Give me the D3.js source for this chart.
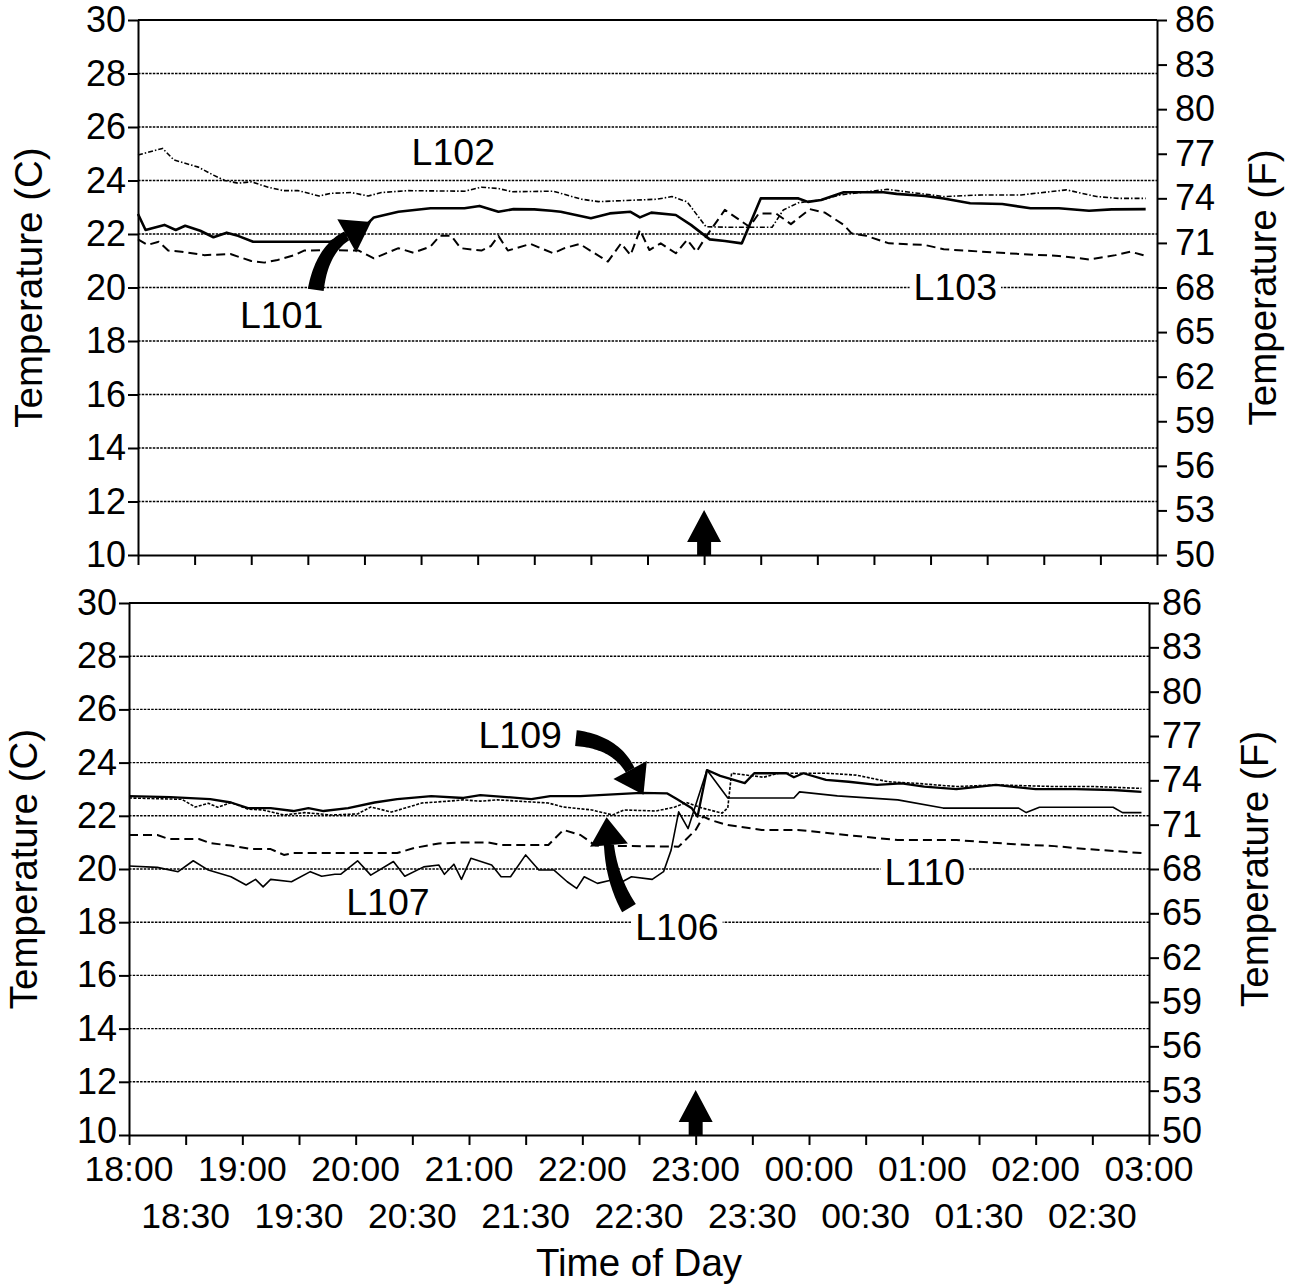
<!DOCTYPE html>
<html>
<head>
<meta charset="utf-8">
<script src="https://cdn.jsdelivr.net/npm/d3@7"></script>
<style>
  body { margin: 0; background: #fff; }
  svg { display: block; }
</style>
</head>
<body>
<svg id="chart" width="1300" height="1287"></svg>
<script>
// Readings: [minutes after 18:00, temperature in °C]
const L101 = [[0,22.75],[4,22.15],[14,22.34],[20,22.15],[25,22.31],[33,22.12],[40,21.88],[47,22.05],[53,21.93],[61,21.71],[102,21.71],[120,22.27],[125,22.62],[138,22.83],[155,22.96],[173,22.96],[181,23.05],[191,22.83],[199,22.93],[210,22.92],[219,22.87],[224,22.83],[240,22.59],[250,22.77],[261,22.83],[266,22.62],[272,22.8],[285,22.71],[293,22.34],[303,21.8],[311,21.74],[320,21.65],[330,23.33],[350,23.33],[355,23.2],[362,23.27],[374,23.56],[395,23.56],[402,23.5],[417,23.42],[427,23.33],[441,23.15],[458,23.12],[473,22.96],[488,22.96],[504,22.87],[516,22.92],[534,22.93]];
const L102 = [[0,24.95],[13,25.2],[19,24.77],[32,24.5],[40,24.2],[46,24.0],[53,23.9],[60,23.95],[69,23.75],[77,23.62],[85,23.62],[96,23.42],[102,23.52],[113,23.55],[122,23.42],[129,23.55],[143,23.62],[173,23.6],[182,23.75],[191,23.7],[198,23.58],[220,23.6],[235,23.3],[244,23.21],[275,23.3],[283,23.4],[291,23.2],[301,22.27],[315,22.25],[336,22.25],[342,22.9],[350,23.17],[362,23.27],[372,23.46],[397,23.67],[407,23.58],[427,23.4],[447,23.46],[468,23.46],[492,23.65],[508,23.4],[520,23.33],[534,23.33]];
const L103 = [[0,21.8],[5,21.59],[11,21.71],[16,21.38],[23,21.34],[35,21.21],[49,21.25],[60,20.99],[67,20.93],[74,21.03],[83,21.21],[88,21.38],[102,21.4],[117,21.38],[125,21.09],[138,21.47],[146,21.3],[155,21.53],[160,21.93],[166,21.93],[171,21.47],[182,21.38],[187,21.55],[191,21.93],[196,21.38],[208,21.63],[220,21.28],[226,21.47],[234,21.63],[249,20.97],[256,21.65],[261,21.21],[266,22.15],[271,21.4],[277,21.65],[285,21.28],[291,21.78],[296,21.34],[301,21.9],[311,22.9],[324,22.27],[329,22.77],[338,22.77],[346,22.37],[356,22.93],[364,22.8],[374,22.34],[378,22.03],[386,21.93],[398,21.65],[417,21.59],[427,21.43],[447,21.34],[468,21.25],[488,21.18],[504,21.05],[518,21.21],[526,21.34],[534,21.18]];

const L106 = [[0,22.67],[28,22.62],[35,22.33],[42,22.47],[47,22.32],[54,22.5],[63,22.25],[71,22.22],[82,22.03],[93,22.12],[107,22.03],[121,22.07],[128,22.33],[139,22.14],[148,22.33],[155,22.48],[169,22.55],[177,22.6],[186,22.55],[195,22.6],[222,22.48],[230,22.33],[245,22.22],[256,22.03],[262,22.22],[279,22.18],[289,22.33],[295,22.5],[303,22.3],[314,22.1],[317,22.3],[319,23.6],[336,23.45],[344,23.6],[369,23.6],[385,23.53],[402,23.28],[417,23.22],[438,23.1],[459,23.16],[490,23.1],[511,23.1],[536,23.03]];
const L107 = [[0,20.11],[15,20.06],[26,19.9],[34,20.31],[42,19.96],[54,19.71],[62,19.4],[67,19.61],[71,19.33],[75,19.61],[86,19.52],[96,19.9],[102,19.73],[109,19.8],[112,19.8],[121,20.31],[128,19.77],[140,20.28],[146,19.73],[156,20.08],[164,20.15],[167,19.8],[172,20.18],[176,19.61],[181,20.4],[192,20.15],[197,19.71],[202,19.71],[210,20.53],[217,19.96],[225,19.96],[232,19.52],[237,19.27],[241,19.71],[248,19.46],[255,19.58],[258,19.4],[266,19.71],[277,19.61],[283,19.9],[287,20.71],[291,22.15],[296,21.52],[306,23.72],[317,22.67],[352,22.67],[355,22.9],[375,22.75],[407,22.6],[431,22.29],[471,22.29],[475,22.12],[482,22.32],[521,22.32],[526,22.12],[536,22.12]];
const L109 = [[0,22.74],[22,22.7],[43,22.63],[54,22.5],[63,22.29],[75,22.29],[87,22.18],[95,22.29],[103,22.18],[116,22.29],[130,22.5],[142,22.63],[160,22.74],[177,22.67],[186,22.78],[213,22.63],[223,22.74],[239,22.74],[271,22.86],[285,22.84],[290,22.63],[298,22.28],[301,21.97],[306,23.72],[313,23.5],[326,23.23],[331,23.6],[348,23.6],[352,23.45],[357,23.6],[369,23.35],[381,23.28],[396,23.16],[409,23.22],[421,23.1],[438,23.0],[459,23.16],[480,23.0],[501,23.0],[521,22.97],[536,22.9]];
const L110 = [[0,21.28],[15,21.28],[21,21.13],[37,21.13],[43,20.97],[54,20.88],[65,20.75],[75,20.75],[82,20.53],[87,20.6],[142,20.6],[151,20.79],[164,20.96],[177,21.0],[190,21.0],[197,20.9],[222,20.9],[230,21.47],[239,21.28],[247,20.88],[291,20.84],[300,21.47],[304,21.97],[308,21.84],[317,21.65],[335,21.47],[354,21.47],[385,21.24],[407,21.09],[438,21.09],[469,20.93],[490,20.86],[507,20.75],[536,20.6]];

// Axis ticks and labels
const celsiusTicks = [10, 12, 14, 16, 18, 20, 22, 24, 26, 28, 30];
const fahrenheitTicks = [50, 53, 56, 59, 62, 65, 68, 71, 74, 77, 80, 83, 86];
const hourLabels = ["18:00","19:00","20:00","21:00","22:00","23:00","00:00","01:00","02:00","03:00"];
const halfHourLabels = ["18:30","19:30","20:30","21:30","22:30","23:30","00:30","01:30","02:30"];
const spanMinutes = 540;   // 18:00 .. 03:00
const markerMinute = 300;  // 23:00 event marker

// Callouts: text anchored at [minute, °C] (left/baseline)
const topCallouts = [["L102", 145, 24.58], ["L101", 54, 18.49], ["L103", 411, 19.53]];
const bottomCallouts = [["L109", 185, 24.55], ["L107", 115, 18.27], ["L106", 268, 17.33], ["L110", 400, 19.4]];
// Curved pointers: tail, bend, head base as [minute, °C]
const topPointers = [[[94.2, 19.91], [97.4, 21.40], [110.6, 21.93]]];
const bottomPointers = [
  [[236.6, 24.92], [257.3, 24.77], [265.3, 23.72]],
  [[264.7, 18.53], [255.7, 19.59], [254.1, 20.90]]
];

const FONT = "'Liberation Sans', Arial, Helvetica, sans-serif";
const svg = d3.select("#chart");

function drawPanel(box, series, callouts, pointers, withLabels) {
  const x = d3.scaleLinear().domain([0, spanMinutes]).range([box.left, box.right]);
  const yC = d3.scaleLinear().domain([10, 30]).range([box.bottom, box.top]);
  const yF = d3.scaleLinear().domain([50, 86]).range([box.bottom, box.top]);
  const g = svg.append("g");

  // dotted grid at every °C tick inside the frame
  g.append("g").selectAll("line")
    .data(celsiusTicks.filter(d => d > 10 && d < 30))
    .join("line")
    .attr("x1", box.left).attr("x2", box.right)
    .attr("y1", d => yC(d)).attr("y2", d => yC(d))
    .attr("stroke", "#000").attr("stroke-width", 1.4)
    .attr("stroke-dasharray", "2.5,1.2");

  // top frame edge
  g.append("line")
    .attr("x1", box.left).attr("x2", box.right)
    .attr("y1", box.top).attr("y2", box.top)
    .attr("stroke", "#000").attr("stroke-width", 2);

  const styleAxis = (sel, size) => {
    sel.select(".domain").attr("stroke", "#000").attr("stroke-width", 2);
    sel.selectAll(".tick line").attr("stroke", "#000").attr("stroke-width", 2);
    sel.selectAll(".tick text").attr("font-family", FONT).attr("font-size", size).attr("fill", "#000");
  };

  const left = g.append("g").attr("transform", `translate(${box.left},0)`)
    .call(d3.axisLeft(yC).tickValues(celsiusTicks).tickSize(10).tickSizeOuter(0).tickPadding(2))
    .call(s => styleAxis(s, 36));
  const right = g.append("g").attr("transform", `translate(${box.right},0)`)
    .call(d3.axisRight(yF).tickValues(fahrenheitTicks).tickSize(10).tickSizeOuter(0).tickPadding(box.rightPad))
    .call(s => styleAxis(s, 36));
  g.append("g").attr("transform", `translate(0,${box.bottom})`)
    .call(d3.axisBottom(x).tickValues(d3.range(0, spanMinutes + 1, 30)).tickSize(10).tickSizeOuter(0).tickFormat(() => ""))
    .call(s => styleAxis(s, 36));

  if (withLabels) {
    // lift the lowest scale labels slightly clear of the time labels below
    left.selectAll(".tick text").filter(d => d === 10).attr("y", -4);
    right.selectAll(".tick text").filter(d => d === 50).attr("y", -4);
  }

  // axis titles
  g.append("text")
    .attr("transform", `translate(${box.left - box.titleOff},${(box.top + box.bottom) / 2}) rotate(-90)`)
    .attr("text-anchor", "middle").attr("font-family", FONT).attr("font-size", 38.5)
    .text("Temperature (C)");
  g.append("text")
    .attr("transform", `translate(${box.right + 119},${(box.top + box.bottom) / 2}) rotate(-90)`)
    .attr("text-anchor", "middle").attr("font-family", FONT).attr("font-size", 38.5)
    .text("Temperature (F)");

  // series
  const line = d3.line().x(d => x(d[0])).y(d => yC(d[1]));
  series.forEach(s => {
    g.append("path").datum(s.data)
      .attr("d", line).attr("fill", "none")
      .attr("stroke", "#000").attr("stroke-width", s.width)
      .attr("stroke-dasharray", s.dash || null)
      .attr("stroke-linejoin", "round");
  });

  // callout labels on white boxes
  callouts.forEach(([t, m, c]) => {
    const tx = g.append("text")
      .attr("x", x(m)).attr("y", yC(c))
      .attr("font-family", FONT).attr("font-size", 37.5).text(t);
    const bb = tx.node().getBBox();
    g.insert("rect", () => tx.node())
      .attr("x", bb.x - 4).attr("y", bb.y + 4).attr("width", bb.width + 8).attr("height", bb.height - 6)
      .attr("fill", "#fff");
  });

  // curved pointers: tapered band plus arrow head
  pointers.forEach(([a, b, c]) => {
    const p0 = [x(a[0]), yC(a[1])], p1 = [x(b[0]), yC(b[1])], p2 = [x(c[0]), yC(c[1])];
    const w0 = 16, w1 = 10, headLen = 28, headW = 38;
    const lside = [], rside = [];
    const N = 30;
    for (let i = 0; i <= N; i++) {
      const t = i / N;
      const px = (1 - t) * (1 - t) * p0[0] + 2 * (1 - t) * t * p1[0] + t * t * p2[0];
      const py = (1 - t) * (1 - t) * p0[1] + 2 * (1 - t) * t * p1[1] + t * t * p2[1];
      const dx = 2 * (1 - t) * (p1[0] - p0[0]) + 2 * t * (p2[0] - p1[0]);
      const dy = 2 * (1 - t) * (p1[1] - p0[1]) + 2 * t * (p2[1] - p1[1]);
      const len = Math.hypot(dx, dy);
      const nx = -dy / len, ny = dx / len;
      const w = (w0 + (w1 - w0) * t) / 2;
      lside.push([px + nx * w, py + ny * w]);
      rside.push([px - nx * w, py - ny * w]);
    }
    g.append("path")
      .attr("d", d3.line()(lside.concat(rside.reverse())) + "Z")
      .attr("fill", "#000");
    const ex = p2[0] - p1[0], ey = p2[1] - p1[1], el = Math.hypot(ex, ey);
    const ux = ex / el, uy = ey / el;
    const tip = [p2[0] + ux * headLen, p2[1] + uy * headLen];
    const hl = [p2[0] - uy * headW / 2, p2[1] + ux * headW / 2];
    const hr = [p2[0] + uy * headW / 2, p2[1] - ux * headW / 2];
    g.append("path").attr("d", d3.line()([hl, tip, hr]) + "Z").attr("fill", "#000");
  });

  // event marker: block arrow standing on the time axis
  const mx = x(markerMinute), base = box.bottom;
  g.append("path")
    .attr("d", d3.line()([[mx - 7, base], [mx - 7, base - 13], [mx - 17, base - 13], [mx, base - 45],
                          [mx + 17, base - 13], [mx + 7, base - 13], [mx + 7, base]]) + "Z")
    .attr("fill", "#000");

  if (withLabels) {
    g.append("g").selectAll("text").data(hourLabels).join("text")
      .attr("x", (d, i) => x(i * 60)).attr("y", box.bottom + 46)
      .attr("text-anchor", "middle").attr("font-family", FONT).attr("font-size", 35.5)
      .text(d => d);
    g.append("g").selectAll("text").data(halfHourLabels).join("text")
      .attr("x", (d, i) => x(i * 60 + 30)).attr("y", box.bottom + 93)
      .attr("text-anchor", "middle").attr("font-family", FONT).attr("font-size", 35.5)
      .text(d => d);
    g.append("text")
      .attr("x", (box.left + box.right) / 2).attr("y", box.bottom + 141)
      .attr("text-anchor", "middle").attr("font-family", FONT).attr("font-size", 38.5)
      .text("Time of Day");
  }
}

drawPanel({ left: 138, right: 1157, top: 20, bottom: 555, rightPad: 8, titleOff: 96 },
  [
    { data: L102, width: 1.6, dash: "5,2,1.5,2" },
    { data: L103, width: 2, dash: "9,5" },
    { data: L101, width: 2.6 }
  ], topCallouts, topPointers, false);

drawPanel({ left: 129, right: 1149, top: 603, bottom: 1135, rightPad: 3, titleOff: 92 },
  [
    { data: L106, width: 1.6, dash: "3,1.5" },
    { data: L110, width: 2, dash: "9,5" },
    { data: L107, width: 1.6 },
    { data: L109, width: 2.3 }
  ], bottomCallouts, bottomPointers, true);
</script>
</body>
</html>
